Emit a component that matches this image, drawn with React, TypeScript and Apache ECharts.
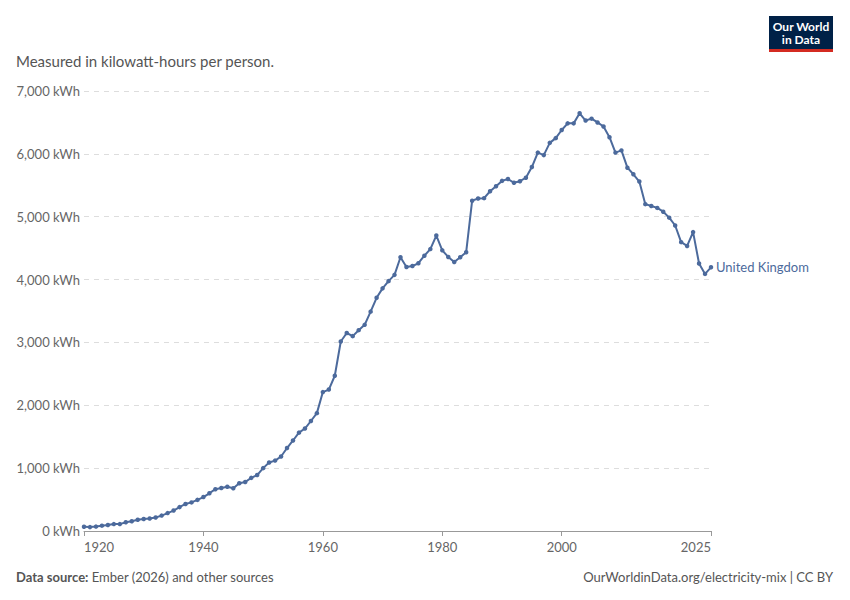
import React, { useEffect, useRef } from "react";
import * as echarts from "echarts";

const startYear = 1920;
const values = [
  68, 62, 70, 85, 95, 110, 110, 140, 155, 180,
  190, 200, 215, 245, 285, 325, 380, 430, 455, 495,
  540, 600, 665, 685, 705, 680, 760, 780, 845, 890,
  1000, 1090, 1120, 1185, 1320, 1440, 1565, 1630, 1750, 1875,
  2210, 2250, 2470, 3015, 3150, 3100, 3195, 3280, 3490, 3710,
  3860, 3975, 4075, 4355, 4200, 4215, 4260, 4380, 4485, 4700,
  4465, 4360, 4280, 4355, 4435, 5255, 5290, 5295, 5405, 5485,
  5570, 5600, 5540, 5565, 5620, 5790, 6020, 5980, 6175, 6250,
  6380, 6485, 6485, 6645, 6530, 6560, 6500, 6435, 6265, 6020,
  6055, 5780, 5675, 5560, 5200, 5170, 5140, 5080, 4985, 4860,
  4595, 4535, 4755, 4255, 4090, 4195,
];
const xTicks = [1920, 1940, 1960, 1980, 2000, 2025];
const seriesName = "United Kingdom";

export default function App() {
  const ref = useRef<HTMLDivElement>(null);
  useEffect(() => {
    const chart = echarts.init(ref.current!, null, { renderer: "svg" });
    const font = "Lato, 'Noto Sans', sans-serif";
    const color = "#4c6a9c";
    chart.setOption({
      animation: false,
      textStyle: { fontFamily: font },
      grid: { left: 84, right: 139, top: 91, bottom: 69 },
      xAxis: {
        type: "value", min: 1920, max: 2025,
        axisLine: { lineStyle: { color: "#999" } },
        axisTick: { show: true, customValues: xTicks, length: 5, lineStyle: { color: "#999" } },
        axisLabel: {
          customValues: xTicks, color: "#666", fontSize: 13, fontFamily: font, margin: 9,
          formatter: (v: number) => String(v), alignMinLabel: "left", alignMaxLabel: "right",
        },
        splitLine: { show: false },
      },
      yAxis: {
        type: "value", min: 0, max: 7000, interval: 1000,
        axisLabel: { color: "#666", fontSize: 13, fontFamily: font, formatter: (v: number) => v.toLocaleString("en-US") + " kWh", margin: 4 },
        splitLine: { lineStyle: { color: "#ddd", type: [5, 5] } },
        axisLine: { show: false }, axisTick: { show: false },
      },
      series: [{
        name: seriesName, type: "line",
        data: values.map((v, i) => [startYear + i, v]),
        symbol: "circle", symbolSize: 4.5,
        lineStyle: { color, width: 2 }, itemStyle: { color },
        endLabel: { show: true, formatter: seriesName, color, fontSize: 13, fontFamily: font, distance: 5 },
      }],
      graphic: [
        { type: "text", left: 16, top: 53, style: { text: "Measured in kilowatt-hours per person.", fill: "#555", font: `15px ${font}` } },
        { type: "rect", x: 769, y: 16, shape: { width: 64, height: 36 }, style: { fill: "#002147" } },
        { type: "rect", x: 769, y: 49, shape: { width: 64, height: 3 }, style: { fill: "#d42b21" } },
        { type: "text", x: 801, y: 20, style: { text: "Our World\nin Data", fill: "#fff", font: `bold 12px ${font}`, align: "center", verticalAlign: "top", lineHeight: 13 } },
        { type: "text", left: 16, top: 570, style: { rich: { b: { fill: "#555", font: `bold 13px ${font}` }, n: { fill: "#555", font: `13px ${font}` } }, text: "{b|Data source:} {n|Ember (2026) and other sources}" } },
        { type: "text", right: 17, top: 570, style: { text: "OurWorldinData.org/electricity-mix | CC BY", fill: "#555", font: `13px ${font}` } },
      ],
    });
    return () => chart.dispose();
  }, []);
  return <div ref={ref} style={{ width: 850, height: 600, position: "absolute", left: 0, top: 0 }} />;
}
